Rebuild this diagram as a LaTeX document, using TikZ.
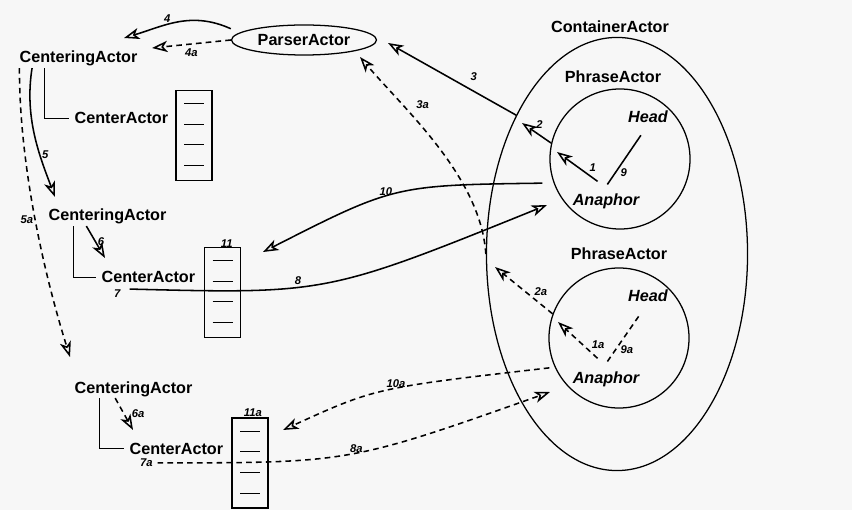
\documentclass[tikz,border=0pt]{standalone}
\usepackage{fontspec}
\setmainfont{Liberation Sans}
\usepackage{tikz}
\usetikzlibrary{arrows.meta, positioning, shapes.geometric}

\begin{document}
\begin{tikzpicture}[
    x=0.025cm, y=-0.025cm,
    >={Stealth[open, length=11pt, width=8pt, inset=3pt]},
    actor/.style={font=\fontsize{11.5}{13}\selectfont\bfseries, inner sep=1pt},
    role/.style={font=\fontsize{11.5}{13}\selectfont\bfseries\itshape, inner sep=1pt},
    num/.style={font=\fontsize{8}{9}\selectfont\bfseries\itshape, inner sep=1pt},
    shell/.style={draw, line width=0.9pt, inner sep=0pt},
    stackbox/.style={shell, minimum width=0.9cm, minimum height=2.25cm},
    seta/.style={->, line width=1.1pt},
    dseta/.style={seta, dash pattern=on 4pt off 3pt},
    link/.style={line width=1.1pt},
    dlink/.style={link, dash pattern=on 4pt off 3pt}
]

\path[use as bounding box, fill=black!3] (0,0) rectangle (852,510);

% container and phrases
\node[shell, ellipse, minimum width=6.525cm, minimum height=10.825cm] (container) at (617,254) {};
\node[shell, circle, minimum size=3.5cm] (c1) at (620,159) {};
\node[shell, circle, minimum size=3.5cm] (c2) at (619,338) {};
\node[actor, above=2pt of container, xshift=-5pt] (cont) {ContainerActor};
\node[actor, above=3pt of c1, xshift=-5pt] (phrase1) {PhraseActor};
\node[actor, above=4pt of c2] (phrase2) {PhraseActor};
\node[role, anchor=base] (head1) at (648,123) {Head};
\node[role, anchor=base] (ana1) at (606,206) {Anaphor};
\node[role, anchor=base] (head2) at (648,301) {Head};
\node[role, anchor=base] (ana2) at (606,383) {Anaphor};

% parser and centering actors
\node[shell, ellipse, actor, minimum width=3.625cm, minimum height=0.75cm] (parser) at (304,40) {ParserActor};
\node[actor, anchor=base west] (cent1) at (18,63) {CenteringActor};
\node[actor, anchor=base west] (ctr1) at (73,124) {CenterActor};
\node[actor, anchor=base west] (cent2) at (47,221) {CenteringActor};
\node[actor, anchor=base west] (ctr2) at (100,283) {CenterActor};
\node[actor, anchor=base west] (cent3) at (73,393) {CenteringActor};
\node[actor, anchor=base west] (ctr3) at (128,454) {CenterActor};

% stacks
\node[stackbox] (stack1) at (194,135.5) {};
\node[stackbox] (stack2) at (222.5,292.5) {};
\node[stackbox] (stack3) at (250,463) {};
\foreach \s in {stack1,stack2,stack3}
  \foreach \dy in {14,34.5,55,76}
    \draw[line width=0.9pt] ([shift={(-10,\dy)}]\s.north) -- ++(20,0);
\node[num, above=-2pt of stack2, xshift=3pt] (n11) {11};
\node[num, above=-1pt of stack3, xshift=2pt] (n11a) {11a};

% brackets
\draw[link] ([xshift=19pt]cent1.south west) |- ([xshift=-3pt]ctr1.west);
\draw[link] ([xshift=19pt]cent2.south west) |- ([xshift=-3pt]ctr2.west);
\draw[link] ([xshift=19pt]cent3.south west) |- ([xshift=-3pt]ctr3.west);

% free ends
\coordinate (t4) at (124,38);
\coordinate (t4a) at (152,48);
\coordinate (t5) at (55,197);
\coordinate (t5a) at (70,357);
\coordinate (t6) at (105,258);
\coordinate (t6a) at (133,430);
\coordinate (t3) at (388,43);
\coordinate (t3a) at (360,57);
\coordinate (t2) at (522,123);
\coordinate (t1) at (557,152);
\coordinate (t2a) at (495,267);
\coordinate (t1a) at (558,322);
\coordinate (t10) at (263,252);
\coordinate (t10a) at (283,430);
\coordinate (t8) at (547,205);
\coordinate (t8a) at (550,392);

% first pass
\draw[seta] ([yshift=8pt]parser.west) .. controls +(-40,-18) and +(40,-12) .. (t4) node[num, above, pos=.6] (n4) {4};
\draw[seta] ([xshift=10pt]cent1.south west) .. controls +(-8,50) and +(-15,-40) .. (t5) node[num, right, pos=.65] (n5) {5};
\draw[seta] ([xshift=28pt]cent2.south west) -- node[num, right] (n6) {6} (t6);
\draw[seta] ([xshift=21pt,yshift=-3pt]ctr2.south west) .. controls +(197,5) .. (t8)
    node[num, left=5pt, pos=0, yshift=-3pt] (n7) {7} node[num, above, pos=.4] (n8) {8};
\draw[seta] ([xshift=-8pt]c1.200) .. controls +(-148,2) .. (t10) node[num, above=-1pt, pos=.55] (n10) {10};
\draw[seta] ([xshift=-6pt,yshift=8pt]ana1.north) -- node[num, above right, pos=.25] (n1) {1} (t1);
\draw[link, shorten <=7pt, shorten >=9pt] ([xshift=-3pt]ana1.north) -- node[num, right=2pt, pos=.3] (n9) {9} (head1.south);
\draw[seta] (c1.167) -- node[num, above=3pt, pos=.4] (n2) {2} (t2);
\draw[seta] (container.126) -- node[num, above=6pt, pos=.33] (n3) {3} (t3);

% second pass
\draw[dseta] (parser.west) -- node[num, below=2pt, pos=.5] (n4a) {4a} (t4a);
\draw[dseta] ([xshift=1pt]cent1.south west) .. controls +(0,100) and +(-25,-80) .. (t5a) node[num, left, pos=.5] (n5a) {5a};
\draw[dseta] ([xshift=30pt]cent3.south west) -- node[num, right=4pt] (n6a) {6a} (t6a);
\draw[dseta] ([xshift=21pt,yshift=-5pt]ctr3.south west) .. controls +(192,0) .. (t8a)
    node[num, left=2pt, pos=0] (n7a) {7a} node[num, above=-1pt, pos=.52] (n8a) {8a};
\draw[dseta] ([xshift=-4pt]c2.205) .. controls +(-174,20) .. (t10a) node[num, above=-1pt, pos=.45] (n10a) {10a};
\draw[dseta] ([xshift=-6pt,yshift=8pt]ana2.north) -- node[num, above right, pos=.2] (n1a) {1a} (t1a);
\draw[dlink, shorten <=7pt, shorten >=9pt] ([xshift=-3pt]ana2.north) -- node[num, right=2pt, pos=.3] (n9a) {9a} (head2.south);
\draw[dseta] (c2.160) -- node[num, above right, pos=.35] (n2a) {2a} (t2a);
\draw[dseta] (container.west) .. controls +(-5,-77) and +(45,53) .. (t3a) node[num, right=8pt, pos=.72] (n3a) {3a};

\end{tikzpicture}
\end{document}
